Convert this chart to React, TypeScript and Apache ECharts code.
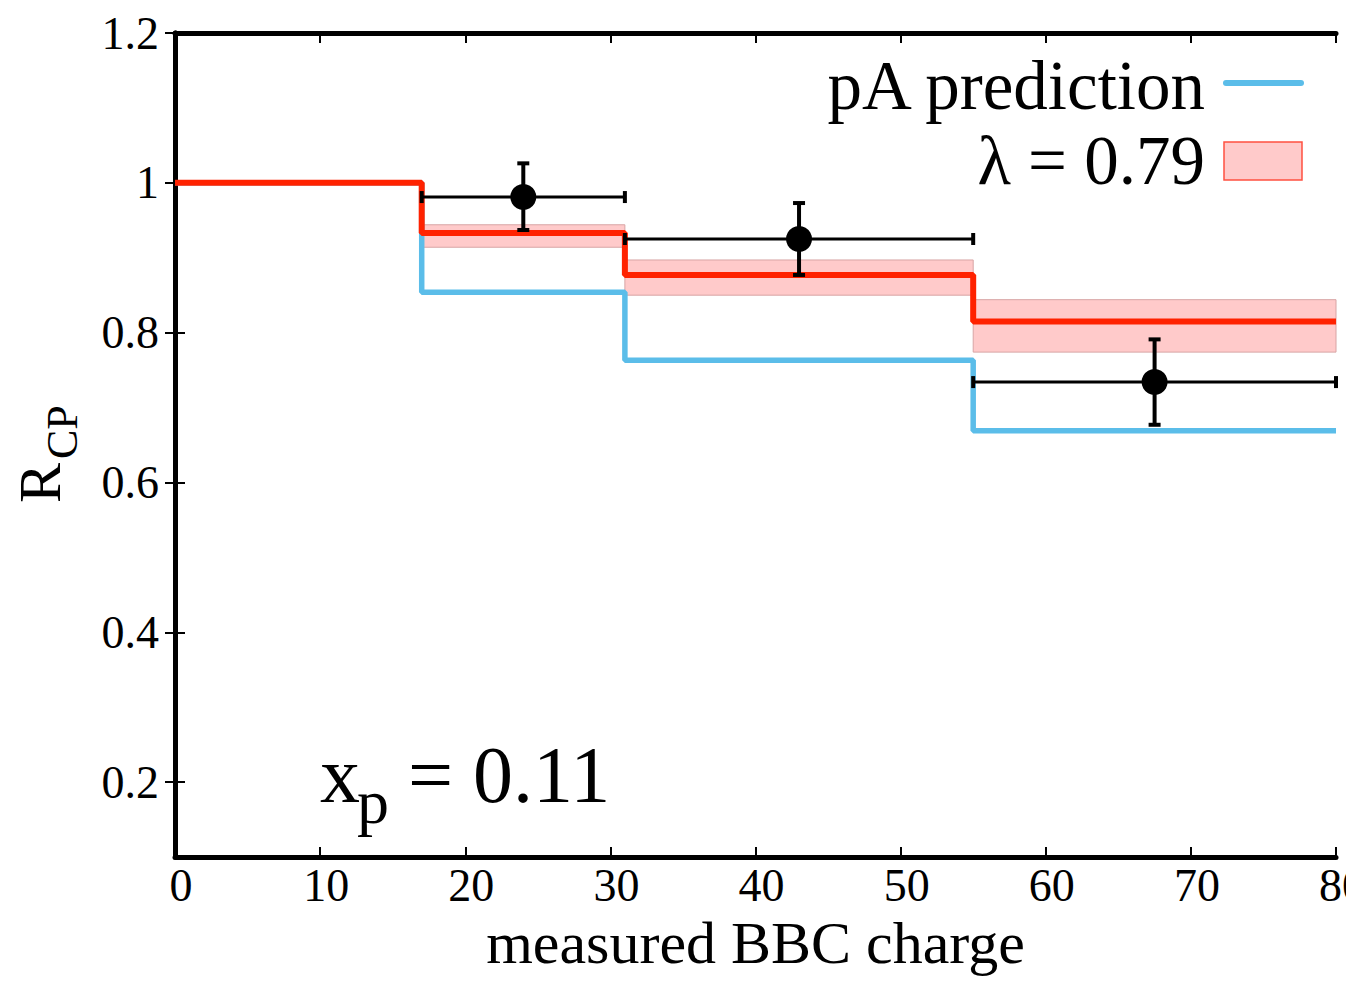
import React, { useEffect, useRef } from "react";
import * as echarts from "echarts";

const stepX = [0, 17, 31, 55, 80];
const redY = [1.0, 0.933, 0.877, 0.815, 0.815];
const blueY = [1.0, 0.854, 0.763, 0.669, 0.669];
const bandX0 = [17, 31, 55];
const bandX1 = [31, 55, 80];
const bandLow = [0.914, 0.85, 0.774];
const bandHigh = [0.944, 0.897, 0.844];
const pointX = [24, 43, 67.5];
const pointY = [0.981, 0.925, 0.734];
const errLow = [0.937, 0.877, 0.677];
const errHigh = [1.026, 0.973, 0.791];
const xErrLow = [17, 31, 55];
const xErrHigh = [31, 55, 80];
const yTicks = [0.2, 0.4, 0.6, 0.8, 1.0, 1.2];
const xTitle = "measured BBC charge";
const legendNames = ["pA prediction", "λ = 0.79"];

const FONT = "'Liberation Serif', 'DejaVu Serif', serif";
const RED = "#ff2200";
const BLUE = "#5bbde9";
const BAND = "#ffcaca";

export default function App() {
  const ref = useRef<HTMLDivElement>(null);
  useEffect(() => {
    document.body.style.margin = "0";
    const chart = echarts.init(ref.current!, null, { renderer: "svg" });
    const axisCommon = {
      axisLine: { show: true, lineStyle: { color: "#000", width: 5 } },
      axisTick: { show: true, inside: true, length: 10, lineStyle: { color: "#000", width: 2 } },
      splitLine: { show: false },
    };
    const option: any = {
      animation: false,
      backgroundColor: "#fff",
      grid: { left: 175, top: 33, width: 1161, height: 824, containLabel: false, outerBoundsMode: "none" },
      xAxis: [
        {
          type: "value",
          min: 0,
          max: 80,
          interval: 10,
          position: "bottom",
          ...axisCommon,
          axisLabel: { color: "#000", fontFamily: FONT, fontSize: 46, margin: 5, padding: [0, 0, 0, 12] },
          name: xTitle,
          nameLocation: "middle",
          nameGap: 56,
          nameTextStyle: { color: "#000", fontFamily: FONT, fontSize: 60 },
        },
        {
          type: "value",
          min: 0,
          max: 80,
          interval: 10,
          position: "top",
          ...axisCommon,
          axisLabel: { show: false },
        },
      ],
      yAxis: [
        {
          type: "value",
          min: 0.1,
          max: 1.2,
          position: "left",
          ...axisCommon,
          axisTick: { ...axisCommon.axisTick, customValues: yTicks },
          axisLabel: {
            color: "#000",
            fontFamily: FONT,
            fontSize: 46,
            margin: 16,
            customValues: yTicks,
            formatter: (v: number) => String(Math.round(v * 10) / 10),
          },
        },
        {
          type: "value",
          min: 0.1,
          max: 1.2,
          position: "right",
          ...axisCommon,
          axisTick: { ...axisCommon.axisTick, customValues: yTicks },
          axisLabel: { show: false },
        },
      ],
      series: [
        {
          name: legendNames[1],
          type: "custom",
          z: 1,
          data: bandX0.map((x0, i) => [x0, bandX1[i], bandLow[i], bandHigh[i]]),
          encode: { x: [0, 1], y: [2, 3] },
          renderItem: (params: any, api: any) => {
            const p1 = api.coord([api.value(0), api.value(3)]);
            const p2 = api.coord([api.value(1), api.value(2)]);
            return {
              type: "rect",
              shape: { x: p1[0], y: p1[1], width: p2[0] - p1[0], height: p2[1] - p1[1] },
              style: { fill: BAND, stroke: "#d8a4a4", lineWidth: 1 },
            };
          },
        },
        {
          name: legendNames[0],
          type: "line",
          step: "end",
          z: 2,
          showSymbol: false,
          symbol: "none",
          data: stepX.map((x, i) => [x, blueY[i]]),
          lineStyle: { color: BLUE, width: 5.5 },
        },
        {
          name: "red",
          type: "line",
          step: "end",
          z: 3,
          showSymbol: false,
          symbol: "none",
          data: stepX.map((x, i) => [x, redY[i]]),
          lineStyle: { color: RED, width: 6 },
        },
        {
          name: "errors",
          type: "custom",
          z: 4,
          data: pointX.map((x, i) => [x, pointY[i], xErrLow[i], xErrHigh[i], errLow[i], errHigh[i]]),
          encode: { x: [0, 2, 3], y: [1, 4, 5] },
          renderItem: (params: any, api: any) => {
            const c = api.coord([api.value(0), api.value(1)]);
            const l = api.coord([api.value(2), api.value(1)]);
            const r = api.coord([api.value(3), api.value(1)]);
            const lo = api.coord([api.value(0), api.value(4)]);
            const hi = api.coord([api.value(0), api.value(5)]);
            const st = (w: number) => ({ stroke: "#000", lineWidth: w });
            const cap = 6;
            return {
              type: "group",
              children: [
                { type: "line", shape: { x1: l[0], y1: c[1], x2: r[0], y2: c[1] }, style: st(3) },
                { type: "line", shape: { x1: l[0], y1: c[1] - cap, x2: l[0], y2: c[1] + cap }, style: st(4) },
                { type: "line", shape: { x1: r[0], y1: c[1] - cap, x2: r[0], y2: c[1] + cap }, style: st(4) },
                { type: "line", shape: { x1: c[0], y1: lo[1], x2: c[0], y2: hi[1] }, style: st(4) },
                { type: "line", shape: { x1: c[0] - cap, y1: lo[1], x2: c[0] + cap, y2: lo[1] }, style: st(4) },
                { type: "line", shape: { x1: c[0] - cap, y1: hi[1], x2: c[0] + cap, y2: hi[1] }, style: st(4) },
              ],
            };
          },
        },
        {
          name: "data",
          type: "scatter",
          z: 5,
          symbol: "circle",
          symbolSize: 26,
          itemStyle: { color: "#000", opacity: 1 },
          data: pointX.map((x, i) => [x, pointY[i]]),
        },
      ],
      graphic: [
        {
          type: "text",
          x: 1205,
          y: 86,
          style: { text: legendNames[0], font: `69px ${FONT}`, fill: "#000", align: "right", verticalAlign: "middle" },
        },
        {
          type: "text",
          x: 1205,
          y: 161,
          style: { text: legendNames[1], font: `69px ${FONT}`, fill: "#000", align: "right", verticalAlign: "middle" },
        },
        {
          type: "line",
          shape: { x1: 1226, y1: 83, x2: 1301, y2: 83 },
          style: { stroke: BLUE, lineWidth: 6, lineCap: "round" },
        },
        {
          type: "rect",
          shape: { x: 1224, y: 142, width: 78, height: 38 },
          style: { fill: BAND, stroke: "#ff5040", lineWidth: 1.5 },
        },
        {
          type: "text",
          x: 320,
          y: 775,
          style: { text: "x", font: `80px ${FONT}`, fill: "#000", align: "left", verticalAlign: "middle" },
        },
        {
          type: "text",
          x: 357,
          y: 801,
          style: { text: "p", font: `64px ${FONT}`, fill: "#000", align: "left", verticalAlign: "middle" },
        },
        {
          type: "text",
          x: 408,
          y: 775,
          style: { text: "= 0.11", font: `80px ${FONT}`, fill: "#000", align: "left", verticalAlign: "middle" },
        },
        {
          type: "text",
          x: 40,
          y: 503,
          rotation: Math.PI / 2,
          style: { text: "R", font: `60px ${FONT}`, fill: "#000", align: "left", verticalAlign: "middle" },
        },
        {
          type: "text",
          x: 62,
          y: 459,
          rotation: Math.PI / 2,
          style: { text: "CP", font: `44px ${FONT}`, fill: "#000", align: "left", verticalAlign: "middle" },
        },
      ],
    };
    chart.setOption(option);
    return () => chart.dispose();
  }, []);
  return <div ref={ref} style={{ position: "absolute", left: 0, top: 0, width: 1346, height: 981 }} />;
}
